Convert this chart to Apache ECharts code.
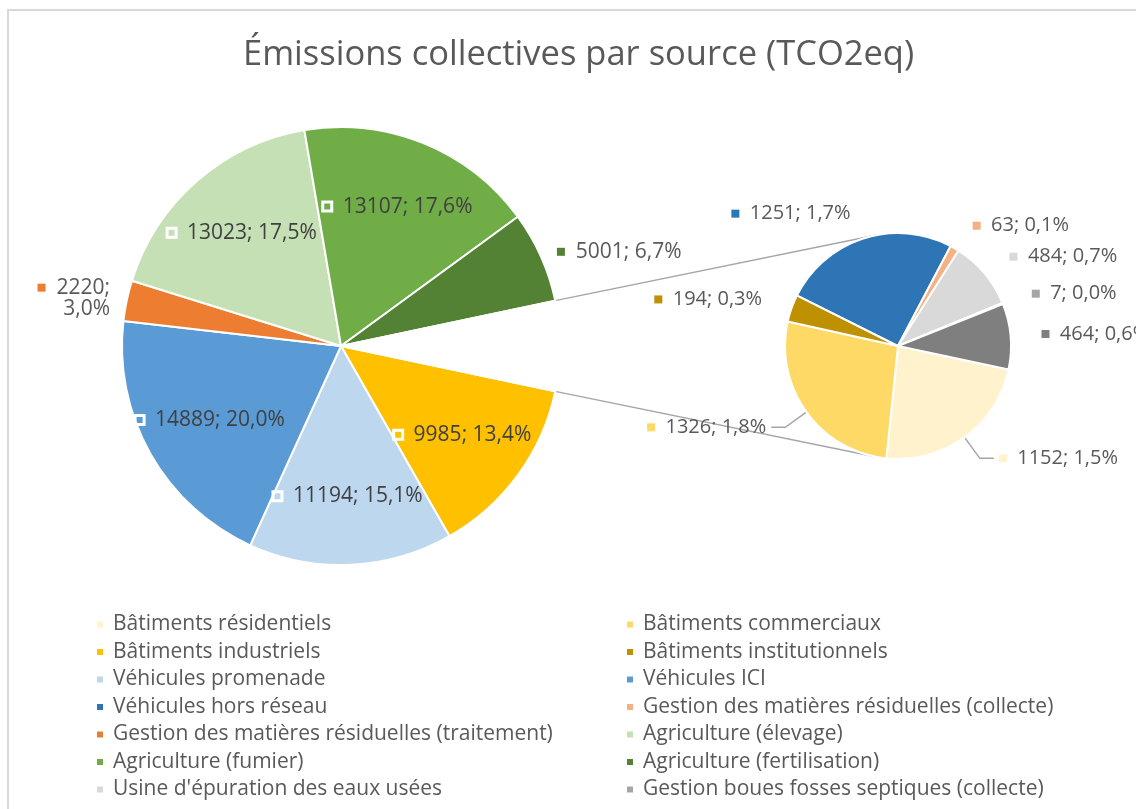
<!DOCTYPE html>
<html>
<head>
<meta charset="utf-8">
<script src="https://cdn.jsdelivr.net/npm/echarts@6/dist/echarts.min.js"></script>
<style>
  html, body { margin: 0; padding: 0; background: #fff; }
  #chart { width: 1136px; height: 809px; }
</style>
</head>
<body>
<div id="chart"></div>
<script>
// ---- data ----
var categories = [
  'Bâtiments résidentiels',
  'Bâtiments commerciaux',
  'Bâtiments industriels',
  'Bâtiments institutionnels',
  'Véhicules promenade',
  'Véhicules ICI',
  'Véhicules hors réseau',
  'Gestion des matières résiduelles (collecte)',
  'Gestion des matières résiduelles (traitement)',
  'Agriculture (élevage)',
  'Agriculture (fumier)',
  'Agriculture (fertilisation)',
  "Usine d'épuration des eaux usées",
  'Gestion boues fosses septiques (collecte)',
  'Gestion boues fosses septiques (traitement)'
];
var values = [1152, 1326, 9985, 194, 11194, 14889, 1251, 63, 2220, 13023, 13107, 5001, 484, 7, 464];
// 1 = slice goes to the second (small) pie
var inSecondPie = [1, 1, 0, 1, 0, 0, 1, 1, 0, 0, 0, 0, 1, 1, 1];
var otherName = 'Autres';
var leaderNames = ['Bâtiments résidentiels', 'Bâtiments commerciaux'];
// legend rows that fit in the picture (last entry is cut off)
var legendCount = 14;

// ---- style ----
var colors = ['#FFF2CC', '#FFD966', '#FFC000', '#BF9000', '#BDD7EE', '#5B9BD5', '#2E75B6',
  '#F4B183', '#ED7D31', '#C5E0B4', '#70AD47', '#548235', '#D9D9D9', '#A5A5A5', '#7F7F7F'];
var FONT = '"Open Sans", Lato, sans-serif';
var TXT = '#595959';
var LINE = '#A6A6A6';
var MAIN_C = [341, 346], MAIN_R = 219;
var SEC_C = [898, 346], SEC_R = 113;

var total = values.reduce(function (s, v) { return s + v; }, 0);
function pct(v) { return (v / total * 100).toFixed(1).replace('.', ','); }

var mainIdx = [], secIdx = [];
values.forEach(function (v, i) { (inSecondPie[i] ? secIdx : mainIdx).push(i); });
var otherVal = secIdx.reduce(function (s, i) { return s + values[i]; }, 0);
var otherDeg = otherVal / total * 360;
// "Autres" slice is last and centred on 3 o'clock
var startAngle = -otherDeg / 2;

// main pie slices
var mainData = mainIdx.map(function (i) {
  return { name: categories[i], value: values[i], itemStyle: { color: colors[i] } };
});
mainData.push({ name: otherName, value: otherVal, itemStyle: { color: '#fff', borderColor: '#fff' } });

// label layer for the main pie (same values, transparent slices)
var acc = 0;
var mainLabelData = mainIdx.map(function (i) {
  var share = values[i] / total;
  var mid = startAngle - (acc + share / 2) * 360;
  acc += share;
  var outside = share < 0.1;
  var left = Math.cos(mid * Math.PI / 180) < 0;
  var lbl;
  if (outside) {
    lbl = {
      position: 'outside',
      color: TXT,
      formatter: '{m|}  ' + values[i] + ';' + (left ? '\n' : ' ') + pct(values[i]) + '%',
      rich: { m: { width: 8, height: 8, backgroundColor: colors[i] } }
    };
  } else {
    lbl = {
      position: 'inside',
      color: '#404040',
      formatter: '{w|}  ' + values[i] + '; ' + pct(values[i]) + '%'
    };
  }
  return { name: categories[i], value: values[i], label: lbl };
});
mainLabelData.push({ name: otherName, value: otherVal, label: { show: false } });

// second pie
var secData = secIdx.map(function (i) {
  var lead = leaderNames.indexOf(categories[i]) >= 0;
  return {
    name: categories[i], value: values[i],
    itemStyle: { color: colors[i] },
    label: {
      formatter: '{m|}  ' + values[i] + '; ' + pct(values[i]) + '%',
      rich: { m: { width: 8, height: 8, backgroundColor: colors[i] } }
    },
    labelLine: { show: lead, length2: lead ? 14 : 0 }
  };
});

// connector lines: edges of "Autres" slice -> tangents of second pie
function tangent(p, upper) {
  var dx = p[0] - SEC_C[0], dy = p[1] - SEC_C[1];
  var d = Math.sqrt(dx * dx + dy * dy);
  var phi = Math.atan2(dy, dx);
  var a = Math.acos(SEC_R / d);
  var t = upper ? phi + a : phi - a;
  return [SEC_C[0] + SEC_R * Math.cos(t), SEC_C[1] + SEC_R * Math.sin(t)];
}
var h = otherDeg / 2 * Math.PI / 180;
var pUp = [MAIN_C[0] + MAIN_R * Math.cos(h), MAIN_C[1] - MAIN_R * Math.sin(h)];
var pDn = [MAIN_C[0] + MAIN_R * Math.cos(h), MAIN_C[1] + MAIN_R * Math.sin(h)];
var tUp = tangent(pUp, true), tDn = tangent(pDn, false);

var leftNames = [], rightNames = [];
categories.slice(0, legendCount).forEach(function (c, i) { (i % 2 ? rightNames : leftNames).push(c); });

var legendBase = {
  orient: 'vertical', top: 609, height: 400,
  itemWidth: 8, itemHeight: 8, itemGap: 6.5, icon: 'rect',
  selectedMode: false,
  textStyle: { fontSize: 21, lineHeight: 21, color: TXT, fontFamily: FONT, padding: [0, 0, 0, 4] }
};

var chart = echarts.init(document.getElementById('chart'));
chart.setOption({
  animation: false,
  backgroundColor: '#fff',
  textStyle: { fontFamily: FONT },
  title: {
    text: 'Émissions collectives par source (TCO2eq)',
    left: 238, top: 33,
    textStyle: { fontSize: 34.5, fontWeight: 'normal', color: TXT, fontFamily: FONT }
  },
  legend: [
    Object.assign({ left: 90, data: leftNames }, legendBase),
    Object.assign({ left: 620, data: rightNames }, legendBase)
  ],
  graphic: [
    { type: 'rect', silent: true, shape: { x: 8, y: 10, width: 1200, height: 900 },
      style: { fill: null, stroke: '#D9D9D9', lineWidth: 2 } },
    { type: 'line', silent: true, shape: { x1: pUp[0], y1: pUp[1], x2: tUp[0], y2: tUp[1] },
      style: { stroke: LINE, lineWidth: 1.5 } },
    { type: 'line', silent: true, shape: { x1: pDn[0], y1: pDn[1], x2: tDn[0], y2: tDn[1] },
      style: { stroke: LINE, lineWidth: 1.5 } }
  ],
  series: [
    {
      name: 'principal', type: 'pie', center: MAIN_C, radius: MAIN_R,
      startAngle: startAngle, clockwise: true, silent: true,
      itemStyle: { borderColor: '#fff', borderWidth: 2 },
      label: { show: false }, labelLine: { show: false },
      data: mainData, z: 2
    },
    {
      name: 'étiquettes', type: 'pie', center: MAIN_C, radius: [76, MAIN_R],
      startAngle: startAngle, clockwise: true, silent: true,
      itemStyle: { color: 'rgba(0,0,0,0)', borderWidth: 0 },
      emphasis: { disabled: true },
      label: {
        show: true, fontSize: 21, fontFamily: FONT,
        rich: { w: { width: 9, height: 9, borderColor: '#fff', borderWidth: 3 } }
      },
      labelLine: { show: false, length: 12, length2: 0 },
      data: mainLabelData, z: 3
    },
    {
      name: 'secondaire', type: 'pie', center: SEC_C, radius: SEC_R,
      startAngle: startAngle, clockwise: true, silent: true,
      itemStyle: { borderColor: '#fff', borderWidth: 2 },
      label: { show: true, position: 'outside', fontSize: 20, color: TXT, fontFamily: FONT, overflow: 'none' },
      labelLine: { length: 26, length2: 0, lineStyle: { color: LINE, width: 1.5 } },
      data: secData, z: 2
    }
  ]
});
</script>
</body>
</html>
